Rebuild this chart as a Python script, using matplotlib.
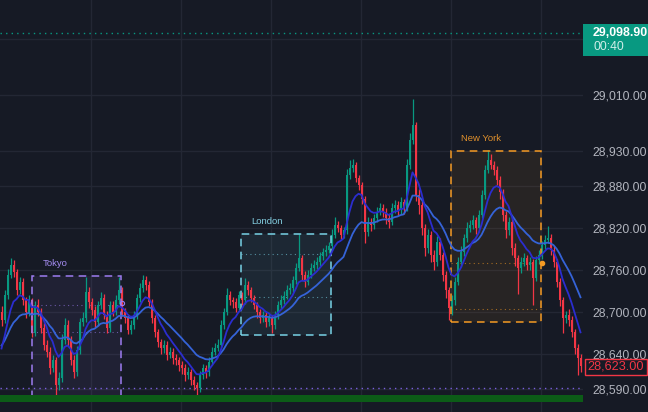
import numpy as np
import pandas as pd
import matplotlib
matplotlib.use('Agg')
import matplotlib.pyplot as plt
import matplotlib.transforms as mtransforms
from matplotlib.patches import Rectangle

BG = '#161a25'
UP = '#089981'
DOWN = '#f23645'
GRID = '#232734'
TXT = '#b2b5be'

# candles, one per bar, open = previous close
first_open = 28700
closes = [28689, 28724, 28753, 28767, 28757, 28731, 28743, 28717, 28700, 28717,
          28670, 28710, 28700, 28677, 28653, 28643, 28620, 28631, 28596, 28606,
          28660, 28681, 28660, 28631, 28614, 28646, 28686, 28691, 28729, 28714,
          28703, 28686, 28710, 28720, 28696, 28677, 28710, 28700, 28717, 28731,
          28700, 28691, 28674, 28681, 28696, 28720, 28734, 28746, 28739, 28714,
          28691, 28671, 28657, 28649, 28653, 28639, 28643, 28634, 28631, 28624,
          28620, 28610, 28614, 28603, 28596, 28591, 28610, 28620, 28614, 28629,
          28643, 28649, 28653, 28681, 28700, 28724, 28717, 28714, 28706, 28724,
          28717, 28739, 28731, 28720, 28710, 28700, 28691, 28696, 28686, 28691,
          28681, 28696, 28710, 28717, 28723, 28731, 28734, 28746, 28763, 28777,
          28753, 28743, 28753, 28763, 28767, 28771, 28780, 28786, 28789, 28794,
          28810, 28824, 28820, 28810, 28817, 28896, 28906, 28910, 28891, 28881,
          28862, 28814, 28829, 28824, 28834, 28843, 28849, 28843, 28834, 28829,
          28849, 28853, 28846, 28857, 28849, 28910, 28946, 28967, 28867, 28853,
          28820, 28791, 28810, 28781, 28771, 28800, 28781, 28753, 28731, 28706,
          28717, 28743, 28771, 28786, 28806, 28820, 28824, 28831, 28820, 28839,
          28867, 28903, 28917, 28910, 28903, 28889, 28871, 28839, 28817, 28829,
          28791, 28777, 28763, 28771, 28777, 28767, 28771, 28749, 28774, 28781,
          28796, 28803, 28806, 28789, 28771, 28743, 28717, 28691, 28696, 28689,
          28671, 28649, 28634, 28623]
highs = [28708, 28732, 28762, 28777, 28774, 28762, 28750, 28748, 28722, 28724,
         28720, 28716, 28718, 28705, 28684, 28660, 28650, 28638, 28636, 28614,
         28668, 28691, 28688, 28666, 28638, 28652, 28692, 28700, 28750, 28736,
         28720, 28708, 28716, 28728, 28726, 28702, 28716, 28716, 28724, 28750,
         28736, 28706, 28696, 28688, 28702, 28726, 28742, 28753, 28752, 28744,
         28718, 28696, 28676, 28662, 28660, 28658, 28650, 28648, 28640, 28636,
         28630, 28626, 28622, 28618, 28608, 28600, 28616, 28626, 28624, 28636,
         28650, 28656, 28662, 28688, 28706, 28734, 28730, 28722, 28720, 28730,
         28728, 28749, 28744, 28736, 28724, 28714, 28704, 28702, 28700, 28698,
         28696, 28702, 28716, 28724, 28730, 28738, 28742, 28752, 28770, 28811,
         28782, 28758, 28760, 28770, 28774, 28778, 28786, 28792, 28796, 28800,
         28818, 28836, 28830, 28824, 28822, 28904, 28917, 28918, 28914, 28896,
         28886, 28866, 28836, 28834, 28840, 28850, 28856, 28854, 28848, 28840,
         28856, 28860, 28858, 28864, 28862, 28918, 28956, 29004, 28972, 28876,
         28858, 28826, 28818, 28816, 28788, 28808, 28806, 28786, 28758, 28736,
         28724, 28750, 28778, 28794, 28812, 28828, 28832, 28838, 28836, 28846,
         28874, 28910, 28932, 28926, 28916, 28908, 28894, 28876, 28844, 28836,
         28834, 28798, 28782, 28778, 28784, 28782, 28778, 28776, 28780, 28788,
         28802, 28810, 28823, 28812, 28794, 28776, 28748, 28722, 28702, 28704,
         28694, 28676, 28654, 28640]
lows = [28680, 28684, 28718, 28748, 28750, 28724, 28726, 28710, 28692, 28694,
        28664, 28666, 28694, 28670, 28646, 28636, 28612, 28614, 28578, 28588,
        28600, 28654, 28652, 28624, 28606, 28608, 28640, 28680, 28686, 28706,
        28696, 28678, 28680, 28704, 28690, 28670, 28672, 28694, 28696, 28712,
        28694, 28684, 28668, 28668, 28676, 28690, 28714, 28728, 28732, 28708,
        28684, 28664, 28650, 28640, 28642, 28632, 28634, 28626, 28624, 28616,
        28612, 28602, 28604, 28596, 28588, 28581, 28586, 28604, 28606, 28608,
        28624, 28638, 28644, 28648, 28676, 28696, 28710, 28706, 28700, 28702,
        28710, 28712, 28724, 28714, 28704, 28692, 28684, 28686, 28678, 28680,
        28670, 28676, 28690, 28704, 28712, 28718, 28726, 28728, 28740, 28758,
        28746, 28736, 28738, 28748, 28758, 28762, 28766, 28774, 28780, 28784,
        28790, 28806, 28814, 28804, 28806, 28812, 28890, 28900, 28886, 28874,
        28854, 28798, 28808, 28816, 28818, 28828, 28838, 28836, 28826, 28820,
        28824, 28842, 28838, 28840, 28840, 28844, 28904, 28940, 28858, 28840,
        28810, 28780, 28784, 28772, 28760, 28766, 28774, 28744, 28720, 28689,
        28696, 28710, 28738, 28764, 28780, 28800, 28814, 28818, 28812, 28814,
        28834, 28862, 28898, 28904, 28896, 28882, 28862, 28830, 28806, 28810,
        28782, 28766, 28726, 28756, 28766, 28760, 28760, 28710, 28744, 28768,
        28776, 28790, 28798, 28782, 28764, 28736, 28708, 28670, 28684, 28680,
        28664, 28640, 28610, 28614]

# moving averages (seeded with the level they show at the left edge)
fast_span, fast_seed = 8, 28636
slow_span, slow_seed = 20, 28648

last_price = 29098.90
last_time = '00:40'
close_price = 28623.00

price_ticks = [28590, 28640, 28700, 28760, 28820, 28880, 28930, 29010, 29090]
tick_labels = ['28,590.00', '28,640.00', '28,700.00', '28,760.00', '28,820.00',
               '28,880.00', '28,930.00', '29,010.00', '']
time_grid = [29.8, 59.8, 89.8, 119.8, 149.8, 179.8]

sessions = ['Tokyo', 'London', 'New York']
sess_start = [10.1, 79.8, 149.8]
sess_end = [39.8, 109.8, 179.8]
sess_high = [28751, 28811, 28930]
sess_low = [28576, 28667, 28686]
sess_level_a = [28710, 28783, 28770]
sess_level_b = [28671, 28721, 28704]
sess_colors = ['#9d7cf0', '#78d2e6', '#f59a23']
sess_text = ['#a48cf0', '#84d0e2', '#e0902c']

support = 28592
band = (28571, 28581)

y_top, y_bot = 29145.7, 28557.1


def ema(values, span, seed):
    s = pd.Series([seed] + list(values), dtype=float)
    return s.ewm(span=span, adjust=False).mean().to_numpy()[1:]


closes = np.array(closes, dtype=float)
opens = np.concatenate([[first_open], closes[:-1]])
highs = np.maximum(np.array(highs, dtype=float), np.maximum(opens, closes))
lows = np.minimum(np.array(lows, dtype=float), np.minimum(opens, closes))
idx = np.arange(len(closes))
colors = np.where(closes >= opens, UP, DOWN)

fig = plt.figure(figsize=(6.48, 4.12), dpi=100)
fig.patch.set_facecolor(BG)
ax = fig.add_axes([0, 0, 583 / 648, 1])
ax.set_facecolor(BG)
for s in ax.spines.values():
    s.set_visible(False)
ax.set_xlim(-0.5, 193.83)
ax.set_ylim(y_bot, y_top)

ax.set_yticks(price_ticks)
ax.set_yticklabels(tick_labels)
ax.yaxis.tick_right()
ax.tick_params(axis='y', length=0, pad=7, labelsize=8.7, labelcolor=TXT)
for t in ax.get_yticklabels():
    t.set_fontfamily(['Liberation Sans', 'DejaVu Sans'])
ax.set_xticks(time_grid)
ax.tick_params(axis='x', length=0, labelbottom=False)
ax.grid(True, color=GRID, lw=1)
ax.set_axisbelow(True)

# session boxes
for name, x0, x1, hi, lo, la, lb, col, tcol in zip(sessions, sess_start, sess_end, sess_high, sess_low,
                                                    sess_level_a, sess_level_b, sess_colors, sess_text):
    ax.add_patch(Rectangle((x0, lo), x1 - x0, hi - lo, facecolor=col, alpha=0.08, lw=0, zorder=1))
    ax.add_patch(Rectangle((x0, lo), x1 - x0, hi - lo, facecolor='none', edgecolor=col,
                           lw=1.1, ls=(0, (5, 3.5)), zorder=4))
    ax.hlines([la, lb], x0, x1, colors=col, lw=0.8, linestyles=(0, (1, 3)), alpha=0.6, zorder=2)
    ax.text(x0 + 3.5, hi + 18.5, name, color=tcol, fontsize=6.8, ha='left', va='center',
            family=['Liberation Sans', 'DejaVu Sans'], zorder=5)

# candles
ax.vlines(idx, lows, highs, colors=colors, lw=0.9, zorder=3)
ax.bar(idx, np.maximum(np.abs(closes - opens), 0.8), bottom=np.minimum(opens, closes),
       width=0.62, color=colors, lw=0, zorder=3)

# moving averages
ax.plot(idx, ema(closes, slow_span, slow_seed), color='#3563d8', lw=1.3, zorder=4)
ax.plot(idx, ema(closes, fast_span, fast_seed), color='#2b2dcf', lw=1.3, zorder=4)

# session end markers
ax.plot([sess_end[0] + 0.4], [sess_level_a[0] + 3], 'o', ms=3, mfc='none', mec=sess_colors[0], mew=0.8, zorder=5)
ax.plot([sess_end[2] + 0.4], [sess_level_a[2]], 'o', ms=3, mfc=sess_colors[2], mec=sess_colors[2], zorder=5)

# levels
ax.axhline(support, color='#7b5fe0', lw=1, ls=(0, (1, 3)), zorder=2)
ax.axhspan(band[0], band[1], color='#0c5c17', lw=0, zorder=5)
ax.axhline(last_price, color=UP, lw=1, ls=(0, (1, 3)), zorder=2)

# price labels on the right scale
trans = mtransforms.blended_transform_factory(ax.transAxes, ax.transData)
xr = 648 / 583
ax.add_patch(Rectangle((1.0, last_price - 33), xr - 1.0, 46, transform=trans,
                       facecolor=UP, lw=0, clip_on=False, zorder=6))
ax.text(1.0 + 10 / 583, last_price, f'{last_price:,.2f}', transform=trans, color='white',
        fontsize=8.9, fontweight='bold', va='center', ha='left', clip_on=False, zorder=7,
        family=['Liberation Sans', 'DejaVu Sans'])
ax.text(1.0 + 10 / 583, last_price - 20, last_time, transform=trans, color='#cfeee8',
        fontsize=8.7, va='center', ha='left', clip_on=False, zorder=7,
        family=['Liberation Sans', 'DejaVu Sans'])
ax.add_patch(Rectangle((1.0 + 2 / 583, close_price - 13), xr - 1.0 - 3 / 583, 23.5, transform=trans,
                       facecolor=BG, edgecolor=DOWN, lw=1, clip_on=False, zorder=6))
ax.text(1.0 + 4 / 583, close_price - 1, f'{close_price:,.2f}', transform=trans, color=DOWN,
        fontsize=9.2, va='center', ha='left', clip_on=False, zorder=7,
        family=['Liberation Sans', 'DejaVu Sans'])

fig.savefig('out.png', dpi=100, facecolor=BG)
